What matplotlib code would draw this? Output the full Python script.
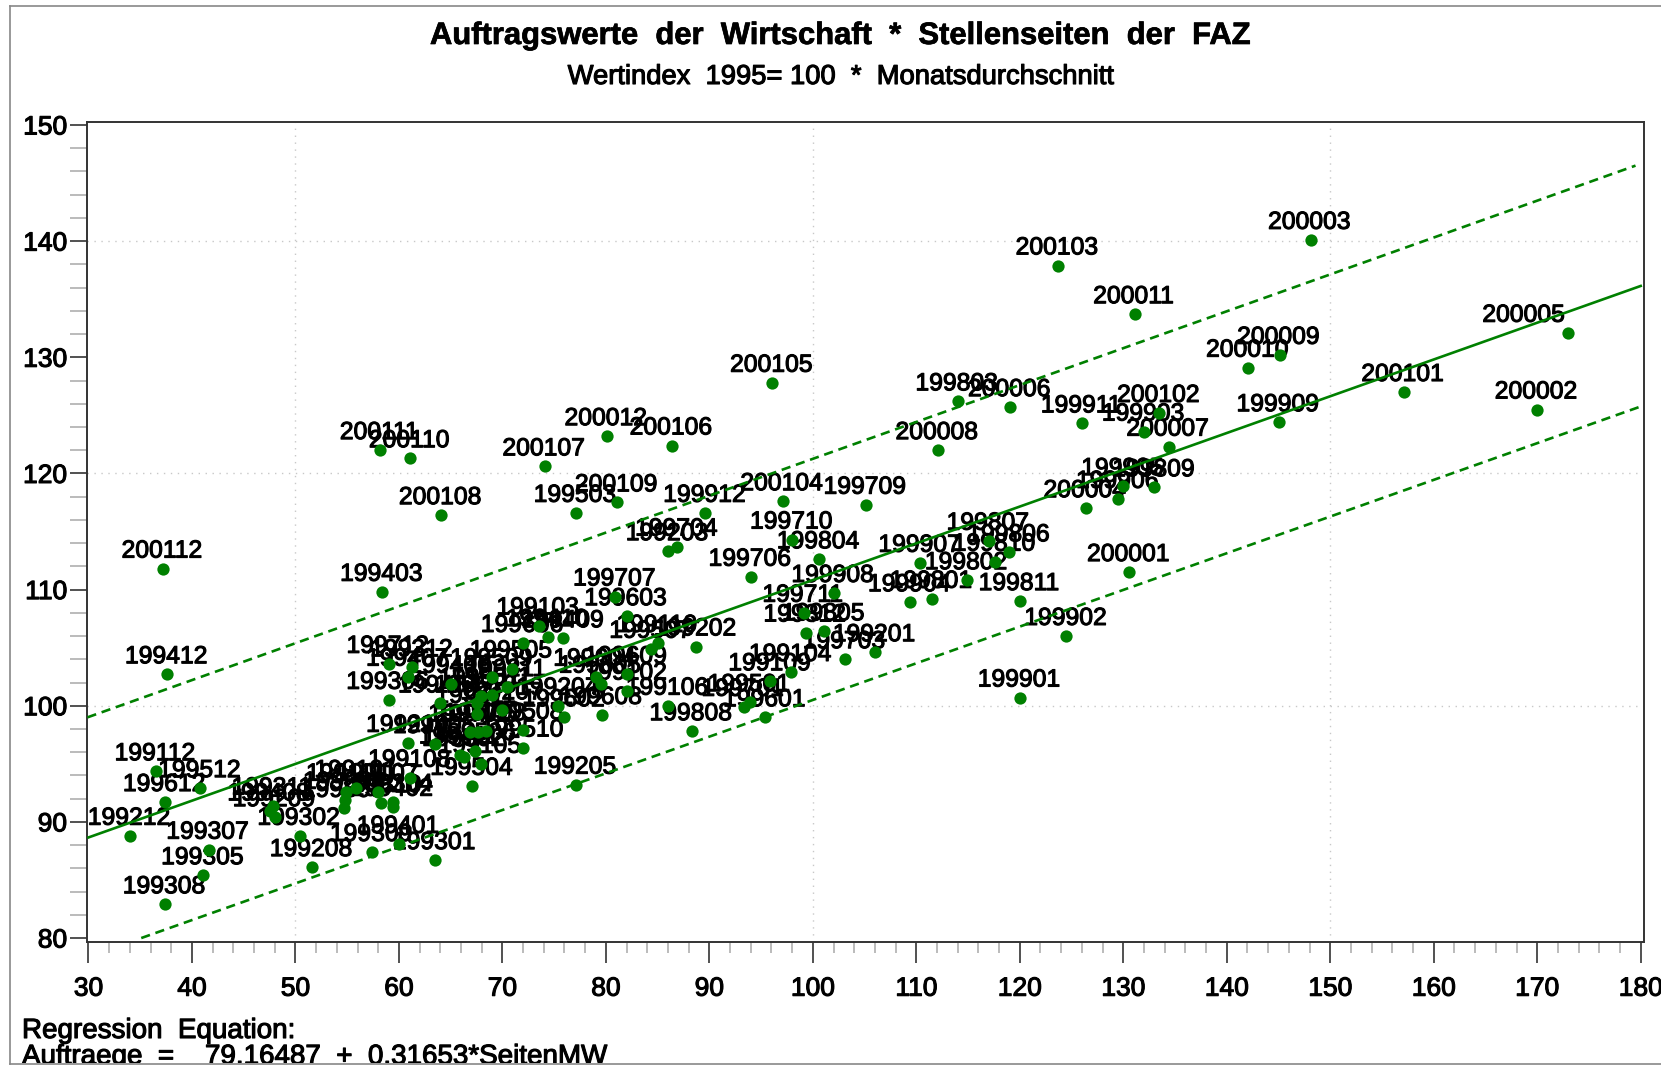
import matplotlib
matplotlib.use("Agg")
import matplotlib.pyplot as plt
import matplotlib.patheffects as pe
from matplotlib.lines import Line2D
from matplotlib.transforms import Bbox
import numpy as np

# months as printed next to the dots
labels = ["199101", "199102", "199103", "199104", "199105", "199106", "199107", "199108", "199109", "199110", "199111", "199112",
          "199201", "199202", "199203", "199204", "199205", "199206", "199207", "199208", "199209", "199210", "199211", "199212",
          "199301", "199302", "199303", "199304", "199305", "199306", "199307", "199308", "199309", "199310", "199311", "199312",
          "199401", "199402", "199403", "199404", "199405", "199406", "199407", "199408", "199409", "199410", "199411", "199412",
          "199501", "199502", "199503", "199504", "199505", "199506", "199507", "199508", "199509", "199510", "199511", "199512",
          "199601", "199602", "199603", "199604", "199605", "199606", "199607", "199608", "199609", "199610", "199611", "199612",
          "199701", "199702", "199703", "199704", "199705", "199706", "199707", "199708", "199709", "199710", "199711", "199712",
          "199801", "199802", "199803", "199804", "199805", "199806", "199807", "199808", "199809", "199810", "199811", "199812",
          "199901", "199902", "199903", "199904", "199905", "199906", "199907", "199908", "199909", "199911", "199912",
          "200001", "200002", "200003", "200004", "200005", "200006", "200007", "200008", "200009", "200010", "200011", "200012",
          "200101", "200102", "200103", "200104", "200105", "200106", "200107", "200108", "200109", "200110", "200111", "200112"]

seiten_mw = [55.9, 82.0, 73.5, 97.9, 67.9, 86.0, 58.0, 61.1, 95.9, 85.0, 54.9, 36.5,
             106.0, 88.7, 86.0, 75.4, 77.1, 54.8, 70.0, 51.6, 48.0, 60.9, 70.4, 34.0,
             63.5, 50.4, 54.7, 59.4, 41.1, 59.0, 41.6, 37.4, 57.4, 58.3, 47.8, 61.3,
             60.0, 59.4, 58.4, 64.0, 63.5, 65.0, 60.9, 47.5, 75.9, 74.4, 65.9, 37.6,
             93.9, 66.3, 77.1, 67.1, 70.9, 67.4, 84.4, 72.0, 69.0, 72.0, 69.0, 40.8,
             95.4, 76.0, 82.0, 79.0, 79.5, 72.0, 67.9, 79.6, 82.0, 67.5, 67.5, 37.4,
             93.3, 66.9, 103.1, 86.9, 67.6, 94.0, 80.9, 68.4, 105.1, 98.0, 99.1, 59.0,
             111.5, 114.9, 114.0, 100.6, 101.1, 119.0, 117.0, 88.3, 133.0, 117.6, 120.0, 99.3,
             120.0, 124.5, 132.0, 109.4, 130.0, 129.5, 110.4, 102.0, 145.0, 126.0, 89.6,
             130.6, 170.0, 148.1, 126.4, 173.0, 119.1, 134.4, 112.1, 145.1, 142.1, 131.1, 80.1,
             157.1, 133.5, 123.7, 97.1, 96.1, 86.4, 74.1, 64.1, 81.1, 61.1, 58.2, 37.2]

auftraege = [92.9, 101.3, 106.9, 102.9, 95.0, 100.0, 92.6, 93.8, 102.1, 105.4, 92.6, 94.35,
             104.6, 105.1, 113.3, 100.0, 93.2, 91.9, 99.6, 86.1, 90.4, 96.8, 101.6, 88.8,
             86.7, 88.8, 91.2, 91.7, 85.4, 100.5, 87.6, 82.9, 87.4, 91.6, 91.4, 103.3,
             88.1, 91.3, 109.8, 100.2, 96.7, 101.9, 102.5, 90.9, 105.8, 105.9, 95.8, 102.7,
             100.3, 95.6, 116.6, 93.1, 103.2, 96.1, 104.9, 97.9, 102.5, 96.4, 100.9, 92.9,
             99.0, 99.0, 107.7, 102.5, 101.9, 105.4, 100.8, 99.2, 102.7, 100.2, 99.3, 91.7,
             99.9, 97.7, 104.0, 113.7, 97.7, 111.1, 109.4, 97.8, 117.3, 114.3, 108.0, 103.6,
             109.2, 110.8, 126.2, 112.6, 106.4, 113.2, 114.2, 97.8, 118.8, 112.4, 109.0, 106.3,
             100.7, 106.0, 123.6, 108.9, 118.9, 117.8, 112.3, 109.7, 124.4, 124.3, 116.6,
             111.5, 125.5, 140.1, 117.0, 132.1, 125.7, 122.3, 122.0, 130.2, 129.1, 133.7, 123.2,
             127.0, 125.2, 137.9, 117.6, 127.8, 122.4, 120.6, 116.4, 117.5, 121.3, 122.0, 111.8]

# regression from the chart's footnote, band ends
intercept = 79.16487
slope = 0.31653
line_x = [30, 180]
upper_x = [29.9, 179.5]
upper_y = [99.0, 146.5]
lower_x = [35.1, 179.8]
lower_y = [80.0, 125.7]

xticks = list(range(30, 181, 10))
yticks = list(range(80, 151, 10))
grid_x = [50, 100, 150]
grid_y = [100, 120, 140]

W, H = 1661, 1066
GREEN = "#008000"
plt.rcParams['font.family'] = ['Liberation Sans', 'DejaVu Sans']

fig = plt.figure(figsize=(W / 100, H / 100), dpi=100)
L, R, T, B = 86.5, 1644, 121.6, 942
ax = fig.add_axes([L / W, 1 - B / H, (R - L) / W, (B - T) / H])
ax.set_xlim(29.81, 180.32)
ax.set_ylim(79.66, 150.29)

heavy = [pe.withStroke(linewidth=0.8, foreground="black")]

for g in grid_x:
    ax.axvline(g, color="#c8c8c8", lw=1, ls=(0, (1, 4)), zorder=0)
for g in grid_y:
    ax.axhline(g, color="#c8c8c8", lw=1, ls=(0, (1, 4)), zorder=0)

# dot labels sit under the lines and dots
for lab, x, y in zip(labels, seiten_mw, auftraege):
    dx = -32 if lab == "200005" else -0.7   # pushed left near the edge in the original
    ax.annotate(lab, (x, y), xytext=(dx, 8), textcoords="offset points", ha="center", va="baseline",
                fontsize=17.8, color="black", zorder=2, path_effects=heavy)

fit_y = [intercept + slope * x for x in line_x]
dash = (0, (3.5, 2.2))
ax.plot(line_x, fit_y, color=GREEN, lw=1.9, zorder=3)
ax.plot(upper_x, upper_y, color=GREEN, lw=1.9, ls=dash, zorder=3)
ax.plot(lower_x, lower_y, color=GREEN, lw=1.9, ls=dash, zorder=3)
ax.scatter(seiten_mw, auftraege, s=78, color=GREEN, linewidths=0, zorder=4)

for s in ax.spines.values():
    s.set_linewidth(1.4)
    s.set_color("#333333")

ax.set_xticks(xticks)
ax.set_yticks(yticks)
ax.set_xticks(np.arange(30, 181, 2), minor=True)
ax.set_yticks(np.arange(80, 151, 2), minor=True)
ax.tick_params(axis="x", which="major", length=15, width=1.2, color="#333333", labelsize=19, pad=10)
ax.tick_params(axis="x", which="minor", length=8, width=1.1, color="#a8a8a8")
ax.tick_params(axis="y", which="major", length=12.5, width=1.2, color="#333333", labelsize=19, pad=1.5)
ax.tick_params(axis="y", which="minor", length=12.5, width=1.1, color="#a8a8a8")
for t in ax.get_xticklabels() + ax.get_yticklabels():
    t.set_path_effects(heavy)

fig.text(841 / W, 1 - 36 / H, "Auftragswerte  der  Wirtschaft  *  Stellenseiten  der  FAZ",
         ha="center", va="center", fontsize=22.3, fontweight="bold",
         path_effects=[pe.withStroke(linewidth=0.5, foreground="black")])
fig.text(841 / W, 1 - 77 / H, "Wertindex  1995= 100  *  Monatsdurchschnitt",
         ha="center", va="center", fontsize=19.7, path_effects=heavy)

clip = Bbox.from_extents(0, H - 1063, W, H)
t1 = fig.text(22 / W, 1 - 1038 / H, "Regression  Equation:", ha="left", va="baseline", fontsize=20, path_effects=heavy)
t2 = fig.text(22 / W, 1 - 1064 / H, "Auftraege  =    79.16487  +  0.31653*SeitenMW", ha="left", va="baseline", fontsize=20, path_effects=heavy)
t2.set_clip_box(clip)
t2.set_clip_on(True)

# thin outer frame, open on the right
for xs, ys in [([9.5, 9.5], [5.5, 1063.5]), ([9.5, W], [5.5, 5.5]), ([9.5, W], [1063.5, 1063.5])]:
    fig.add_artist(Line2D([x / W for x in xs], [1 - y / H for y in ys], color="#888888", lw=1.2))

fig.savefig("out.png", dpi=100)
